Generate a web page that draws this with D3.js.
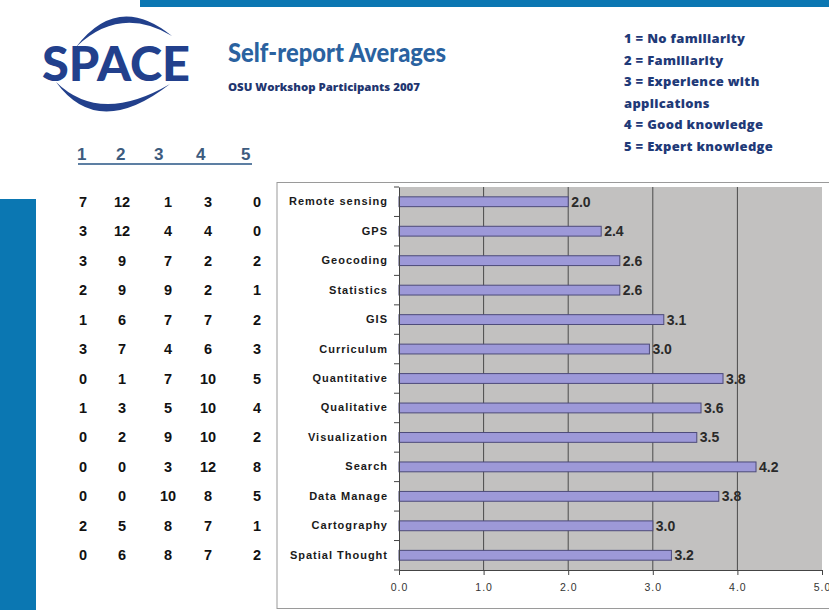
<!DOCTYPE html>
<html>
<head>
<meta charset="utf-8">
<script src="https://cdn.jsdelivr.net/npm/d3@7"></script>
<style>
  body { margin: 0; background: #fff; overflow: hidden; }
  svg { display: block; }
</style>
</head>
<body>
<svg></svg>
<script>
// skills, top to bottom
const categories = [
  "Remote sensing", "GPS", "Geocoding", "Statistics", "GIS", "Curriculum",
  "Quantitative", "Qualitative", "Visualization", "Search", "Data Manage",
  "Cartography", "Spatial Thought",
];
// averages
const averages = [2.0, 2.39, 2.61, 2.61, 3.13, 2.96, 3.83, 3.57, 3.52, 4.22, 3.78, 3.0, 3.22];

// counts of answers per familiarity level (table on the left)
const level1 = [7, 3, 3, 2, 1, 3, 0, 1, 0, 0, 0, 2, 0];
const level2 = [12, 12, 9, 9, 6, 7, 1, 3, 2, 0, 0, 5, 6];
const level3 = [1, 4, 7, 9, 7, 4, 7, 5, 9, 3, 10, 8, 8];
const level4 = [3, 4, 2, 2, 7, 6, 10, 10, 10, 12, 8, 7, 7];
const level5 = [0, 0, 2, 1, 2, 3, 5, 4, 2, 8, 5, 1, 2];
const levelHeaders = ["1", "2", "3", "4", "5"];

const legendLines = [
  "1 = No familiarity",
  "2 = Familiarity",
  "3 = Experience with",
  "applications",
  "4 = Good  knowledge",
  "5 = Expert knowledge",
];
const xTicks = [0, 1, 2, 3, 4, 5];

const svg = d3.select("svg").attr("width", 829).attr("height", 610);

// decoration bars
svg.append("rect").attr("x", 140).attr("y", 0).attr("width", 689).attr("height", 7).attr("fill", "#0b77b2");
svg.append("rect").attr("x", 0).attr("y", 199).attr("width", 36).attr("height", 411).attr("fill", "#0b77b2");

// logo
const logo = svg.append("g");
logo.append("path")
  .attr("d", "M76,47 Q118,-8 172,36 Q120,5 76,47 Z")
  .attr("fill", "#22408c");
logo.append("path")
  .attr("d", "M56,82 Q98,140 170,84 Q100,125 56,82 Z")
  .attr("fill", "#22408c");
logo.append("text")
  .attr("x", 42).attr("y", 81)
  .attr("textLength", 148).attr("lengthAdjust", "spacingAndGlyphs")
  .style("font-family", "Lato, 'Open Sans', sans-serif")
  .style("font-weight", 900)
  .style("font-size", "47px")
  .attr("fill", "#22408c")
  .text("SPACE");

// title
svg.append("text")
  .attr("x", 228).attr("y", 62)
  .attr("textLength", 218).attr("lengthAdjust", "spacingAndGlyphs")
  .style("font-family", "Lato, 'Open Sans', sans-serif")
  .style("font-weight", 900)
  .style("font-size", "27px")
  .attr("fill", "#2a62a0")
  .text("Self-report Averages");

svg.append("text")
  .attr("x", 228).attr("y", 91)
  .attr("textLength", 192).attr("lengthAdjust", "spacingAndGlyphs")
  .style("font-family", "'Open Sans', sans-serif")
  .style("font-weight", 800)
  .style("font-size", "11px")
  .attr("fill", "#1f3670")
  .text("OSU Workshop  Participants 2007");

// legend
svg.append("g")
  .selectAll("text")
  .data(legendLines)
  .join("text")
  .attr("x", 624)
  .attr("y", (d, i) => 43 + i * 21.5)
  .style("font-family", "'Open Sans', sans-serif")
  .style("font-weight", 800)
  .style("font-size", "13px")
  .style("letter-spacing", "0.3px")
  .attr("fill", "#1f3a78")
  .text((d) => d);

// chart frame
svg.append("rect")
  .attr("x", 277).attr("y", 182.5)
  .attr("width", 560).attr("height", 426)
  .attr("fill", "#fff")
  .attr("stroke", "#9a9a9a");

const margin = { top: 187, left: 399, right: 7, bottom: 40 };
const innerWidth = 829 - margin.left - margin.right;
const innerHeight = 610 - margin.top - margin.bottom;

const xScale = d3.scaleLinear().domain([0, 5]).range([0, innerWidth]);
const yScale = d3.scaleBand().domain(categories).range([0, innerHeight]).padding(0);
const barH = yScale.bandwidth() / 3;

const g = svg.append("g").attr("transform", `translate(${margin.left}, ${margin.top})`);

g.append("rect")
  .attr("width", innerWidth).attr("height", innerHeight)
  .attr("fill", "#c2c1c0");

// gridlines
g.selectAll(".grid")
  .data(xTicks.slice(1, 5))
  .join("line")
  .attr("class", "grid")
  .attr("x1", (d) => xScale(d)).attr("x2", (d) => xScale(d))
  .attr("y1", 0).attr("y2", innerHeight)
  .attr("stroke", "#4a4a4a");

// bars
g.selectAll(".bar")
  .data(categories)
  .join("rect")
  .attr("class", "bar")
  .attr("x", 0)
  .attr("y", (d) => yScale(d) + yScale.bandwidth() / 2 - barH / 2)
  .attr("width", (d, i) => xScale(averages[i]))
  .attr("height", barH)
  .attr("fill", "#9d99d8")
  .attr("stroke", "#4d4b7a");

// value labels
g.selectAll(".val")
  .data(categories)
  .join("text")
  .attr("class", "val")
  .attr("x", (d, i) => xScale(averages[i]) + 3)
  .attr("y", (d) => yScale(d) + yScale.bandwidth() / 2 + 5)
  .style("font-family", "'Liberation Sans', Arial, sans-serif")
  .style("font-weight", 700)
  .style("font-size", "14px")
  .attr("fill", "#2a2a2a")
  .text((d, i) => d3.format(".1f")(averages[i]));

// x axis
const xAxis = d3.axisBottom(xScale).tickValues(xTicks).tickFormat(d3.format(".1f")).tickSize(5);
g.append("g")
  .attr("transform", `translate(0, ${innerHeight})`)
  .call(xAxis)
  .call((a) => a.select(".domain").attr("stroke", "#444"))
  .call((a) => a.selectAll("line").attr("stroke", "#444"))
  .call((a) => a.selectAll("text")
    .attr("y", 14)
    .style("font-family", "'Liberation Sans', Arial, sans-serif")
    .style("font-size", "10.5px")
    .style("letter-spacing", "1px")
    .attr("fill", "#333"));

// y axis: labels at band centres, ticks at band edges
const yAxis = d3.axisLeft(yScale).tickSize(0).tickPadding(11);
g.append("g")
  .call(yAxis)
  .call((a) => a.select(".domain").attr("stroke", "#444"))
  .call((a) => a.selectAll("text")
    .style("font-family", "'Liberation Sans', Arial, sans-serif")
    .style("font-weight", 700)
    .style("font-size", "11px")
    .style("letter-spacing", "1px")
    .attr("fill", "#1a1a1a"));

g.selectAll(".ytick")
  .data(d3.range(categories.length + 1))
  .join("line")
  .attr("class", "ytick")
  .attr("x1", -5).attr("x2", 0)
  .attr("y1", (i) => i * yScale.step()).attr("y2", (i) => i * yScale.step())
  .attr("stroke", "#444");

// counts table, rows lined up with the bars
const colX = [83, 122, 168, 208, 257];
const headX = [83, 122, 160, 202, 247];
const levels = [level1, level2, level3, level4, level5];

svg.append("g")
  .selectAll("text")
  .data(levelHeaders)
  .join("text")
  .attr("x", (d, i) => headX[i] - 6)
  .attr("y", 160)
  .style("font-family", "'Liberation Sans', Arial, sans-serif")
  .style("font-weight", 700)
  .style("font-size", "17px")
  .attr("fill", "#3d5b7e")
  .text((d) => d);

svg.append("line")
  .attr("x1", 78).attr("x2", 252)
  .attr("y1", 164).attr("y2", 164)
  .attr("stroke", "#5d7fa3").attr("stroke-width", 2);

const cells = [];
levels.forEach((level, c) => {
  level.forEach((v, i) => cells.push({ c, i, v }));
});

svg.append("g")
  .selectAll("text")
  .data(cells)
  .join("text")
  .attr("x", (d) => colX[d.c] - (d.v >= 10 ? 8 : 4))
  .attr("y", (d) => margin.top + yScale(categories[d.i]) + yScale.bandwidth() / 2 + 5)
  .style("font-family", "'Liberation Sans', Arial, sans-serif")
  .style("font-weight", 700)
  .style("font-size", "14.5px")
  .attr("fill", "#111")
  .text((d) => d.v);
</script>
</body>
</html>
